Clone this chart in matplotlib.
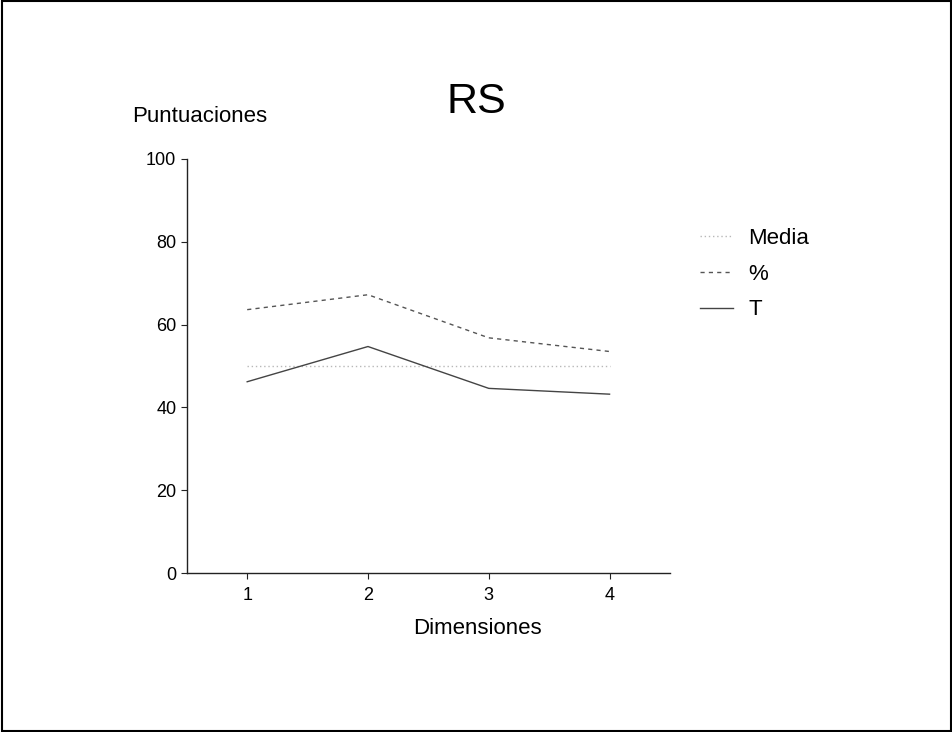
import matplotlib
matplotlib.use("Agg")
import matplotlib.pyplot as plt
from matplotlib.patches import Rectangle

plt.rcParams['font.family'] = ['Liberation Sans', 'DejaVu Sans']

dimensiones = [1, 2, 3, 4]
media = [50, 50, 50, 50]
porcentaje = [63.6, 67.2, 56.8, 53.5]
puntuacion_t = [46.2, 54.7, 44.6, 43.2]
y_ticks = [0, 20, 40, 60, 80, 100]
x_ticks = [1, 2, 3, 4]

fig = plt.figure(figsize=(9.53, 7.32), dpi=100)
ax = fig.add_axes([0.196, 0.217, 0.507, 0.566])

ax.plot(dimensiones, media, linestyle=(0, (1, 2)), color='#b8b8b8', lw=1.0, label='Media')
ax.plot(dimensiones, porcentaje, linestyle=(0, (3, 3)), color='#555555', lw=1.0, label='%')
ax.plot(dimensiones, puntuacion_t, linestyle='-', color='#444444', lw=1.0, label='T')

ax.set_xlim(0.5, 4.5)
ax.set_ylim(0, 100)
ax.set_xticks(x_ticks)
ax.set_yticks(y_ticks)
ax.tick_params(axis='both', labelsize=13, direction='out', length=4, width=0.8,
               colors='#222222', labelcolor='black')
ax.tick_params(axis='x', pad=6)
for s in ['top', 'right']:
    ax.spines[s].set_visible(False)
for s in ['left', 'bottom']:
    ax.spines[s].set_linewidth(1.0)
    ax.spines[s].set_color('#222222')

fig.text(476/953, 1 - 102/732, 'RS', fontsize=31, ha='center', va='center')
fig.text(200/953, 1 - 116/732, 'Puntuaciones', fontsize=16, ha='center', va='center')
fig.text(477/953, 1 - 629/732, 'Dimensiones', fontsize=16, ha='center', va='center')

leg = fig.legend(loc='upper left', bbox_to_anchor=(700/953, 1 - 228/732), frameon=False,
                 fontsize=16, handlelength=1.5, handletextpad=0.68, labelspacing=0.66,
                 borderaxespad=0, borderpad=0)

fig.patches.append(Rectangle((0.002, 0.002), 0.996, 0.996, transform=fig.transFigure,
                             fill=False, edgecolor='black', lw=1.5))

fig.savefig('out.png', dpi=100)
